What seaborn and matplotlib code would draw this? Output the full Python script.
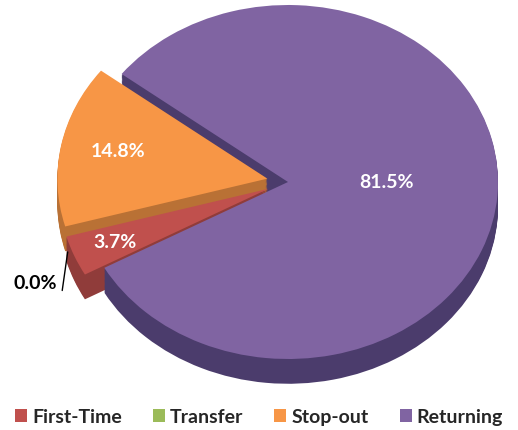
import numpy as np
import matplotlib
matplotlib.use("Agg")
import matplotlib.pyplot as plt
import seaborn as sns
from matplotlib.colors import to_rgb

categories = ["First-Time", "Transfer", "Stop-out", "Returning"]
values = [3.7, 0.0, 14.8, 81.5]
colors = ["#C0504D", "#9BBB59", "#F79646", "#8064A2"]
explode = [0.1, 0.1, 0.1, 0.0]

sns.set_theme(style="white")
plt.rcParams["font.family"] = ["Lato", "DejaVu Sans"]

fig = plt.figure(figsize=(5.18, 4.31), dpi=100)
ax = fig.add_axes([0, 0, 1, 1])

def darker(c, f):
    r, g, b = to_rgb(c)
    return (r * f, g * f, b * f)

side_colors = [darker(c, 0.75) for c in colors]
side_colors[3] = "#4B3C6C"
depth = 0.14
n_layers = 20
startangle = 209

for i in range(n_layers, 0, -1):
    dy = depth * i / n_layers
    ax.pie(values, colors=side_colors, explode=explode, startangle=startangle,
           counterclock=False, center=(0, -dy), radius=1,
           wedgeprops=dict(linewidth=0), normalize=True)

wedges, texts, autotexts = ax.pie(
    values, colors=colors, explode=explode, startangle=startangle,
    counterclock=False, center=(0, 0), radius=1,
    autopct="%.1f%%", pctdistance=0.7,
    wedgeprops=dict(linewidth=0.6, edgecolor="none"), normalize=True,
    textprops=dict(color="white", fontsize=14, fontweight="bold"))

# fine-tune label positions (layout only)
label_pos = {0: (-0.73, -0.30), 2: (-0.71, 0.16), 3: (0.47, 0.0)}
for i, t in enumerate(autotexts):
    if i in label_pos:
        cx, cy = wedges[i].center
        t.set_position((cx + label_pos[i][0], cy + label_pos[i][1]))
    else:
        t.set_visible(False)

# 0.0% outside label with leader line
w = wedges[1]
ang = np.deg2rad(w.theta1)
px = w.center[0] + np.cos(ang) * w.r + 0.01
py = w.center[1] + np.sin(ang) * w.r - depth * 0.7
ax.annotate(f"{values[1]:.1f}%", xy=(px, py), xytext=(-1.10, -0.565),
            ha="right", va="center", fontsize=14, fontweight="bold", color="black",
            arrowprops=dict(arrowstyle="-", color="black", lw=1,
                            shrinkA=0, shrinkB=0, relpos=(1.12, 0.0)))

ax.set_aspect("auto")
ax.set_xlim(-288 / 210, (518 - 288) / 210)
ax.set_ylim(-(431 - 183) / 177, 183 / 177)
ax.axis("off")

fig.legend(wedges, categories, loc="lower center", ncol=4, frameon=False,
           bbox_to_anchor=(0.5, -0.03), handlelength=0.62, handleheight=0.62,
           handletextpad=0.25, columnspacing=1.6,
           prop=dict(family="Lato", weight="bold", size=14))

fig.savefig("out.png", dpi=100)
